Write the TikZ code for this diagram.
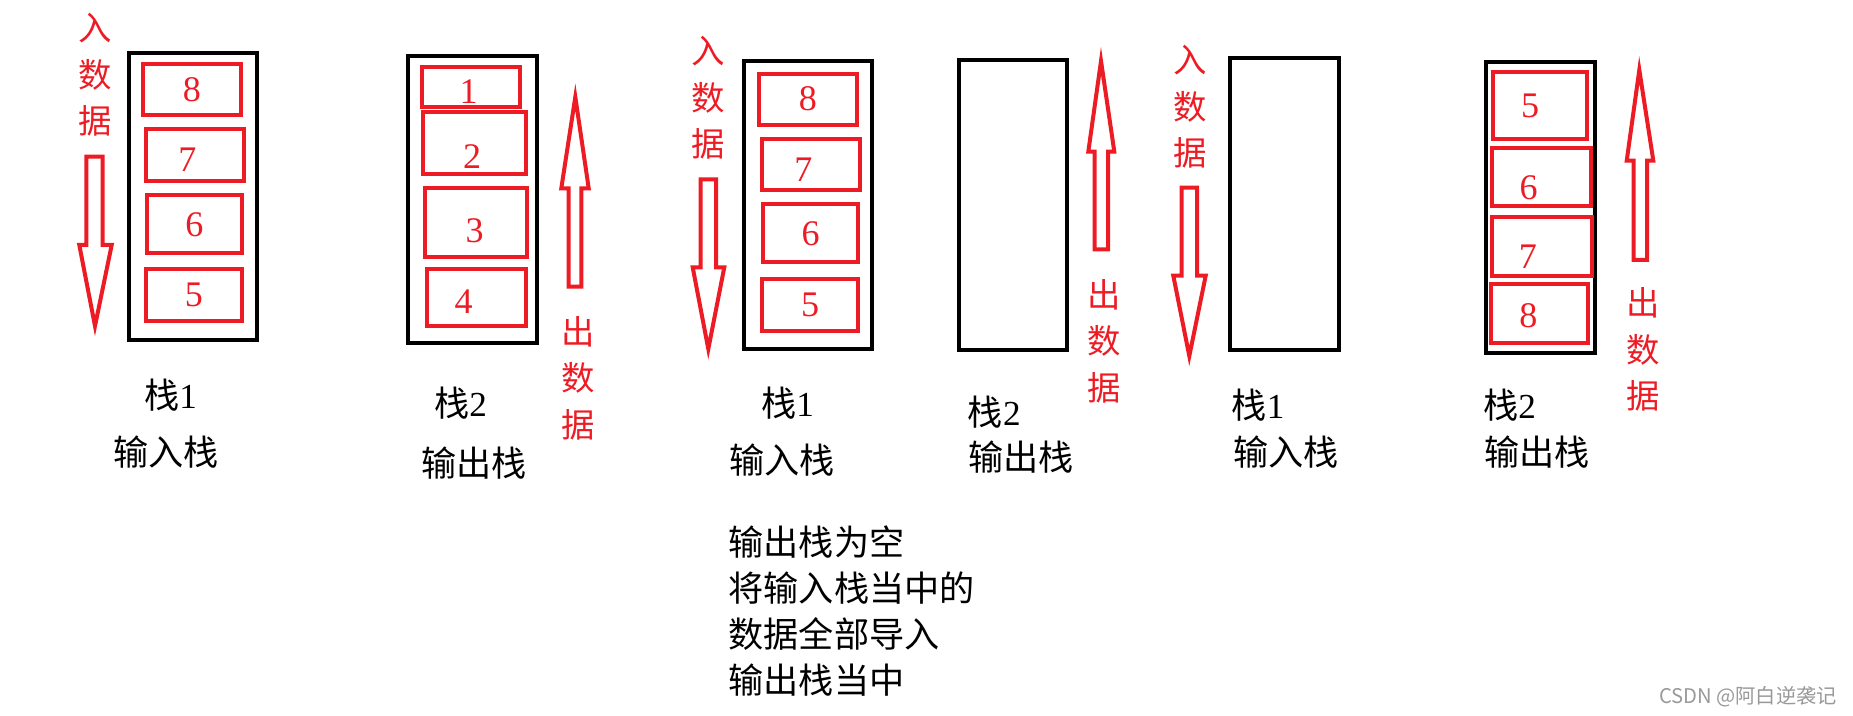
\documentclass[tikz,border=0pt]{standalone}
\usepackage{fontspec}
\newfontfamily\cjk{Noto Sans CJK SC}
\newfontfamily\dig{Liberation Serif}
\definecolor{pred}{HTML}{ED1C24}
\usetikzlibrary{positioning}
\newcommand{\nudge}[3]{\hspace*{#1}\raisebox{#2}[\height][\depth]{#3}}

\begin{document}
\begin{tikzpicture}[x=0.2mm,y=-0.2mm,
 stk/.style={draw=black,line width=0.8mm,inner sep=0pt},
 cell/.style={draw=pred,line width=0.8mm,text=pred,inner sep=0pt,font=\dig\fontsize{20.5pt}{24pt}\selectfont},
 sz/.style 2 args={minimum width=#1*0.2mm,minimum height=#2*0.2mm},
 lab/.style={font=\cjk\fontsize{20pt}{26.2pt}\selectfont,inner sep=0pt,align=left},
 vlab/.style={font=\cjk\fontsize{19pt}{26.5pt}\selectfont,text=pred,align=center,inner sep=0pt},
 blk/.style={draw=pred,line width=0.8mm,line join=miter}]
\useasboundingbox (0,0) rectangle (1853,716);

\node[stk,sz={128.3}{287}] (in1) at (192.9,196.2) {};
\node[cell,sz={97.4}{51}] (in1c8) at (192,89.8) {8};
\node[cell,sz={98}{51.7}] (in1c7) at (195.3,155.2) {\nudge{-9pt}{-2.8pt}{7}};
\node[cell,sz={94.4}{58}] (in1c6) at (194.5,224.3) {6};
\node[cell,sz={95.4}{52}] (in1c5) at (194,295.3) {5};
\node[stk,sz={128.4}{286.7}] (out1) at (472.5,199.7) {};
\node[cell,sz={98}{39.7}] (out1c1) at (471.3,86.9) {\nudge{-3pt}{-2.8pt}{1}};
\node[cell,sz={103}{62}] (out1c2) at (474.8,143.3) {\nudge{-3pt}{-7.4pt}{2}};
\node[cell,sz={102}{68.7}] (out1c3) at (476.3,222.7) {\nudge{-2pt}{-4.6pt}{3}};
\node[cell,sz={99.3}{57}] (out1c4) at (476.7,297.8) {\nudge{-14.8pt}{-2.2pt}{4}};

\node[stk,sz={128}{287.4}] (in2) at (808.3,205) {};
\node[cell,sz={97.7}{51}] (in2c8) at (807.9,99.2) {8};
\node[cell,sz={98}{51.6}] (in2c7) at (811.3,164.5) {\nudge{-9pt}{-2.8pt}{7}};
\node[cell,sz={94.4}{58}] (in2c6) at (810.5,233.3) {6};
\node[cell,sz={95.4}{52}] (in2c5) at (810,304.7) {5};
\node[stk,sz={108}{290.6}] (out2) at (1013.3,205) {};

\node[stk,sz={108.4}{291.7}] (in3) at (1284.5,203.9) {};
\node[stk,sz={108.4}{291}] (out3) at (1540.5,207.5) {};
\node[cell,sz={93.4}{66.7}] (out3c5) at (1540,105.7) {\nudge{-11.4pt}{0pt}{5}};
\node[cell,sz={98.4}{57.4}] (out3c6) at (1541.5,177) {\nudge{-14.8pt}{-6.3pt}{6}};
\node[cell,sz={99.4}{59}] (out3c7) at (1542,246.2) {\nudge{-16pt}{-5.7pt}{7}};
\node[cell,sz={97}{59}] (out3c8) at (1539.8,313.8) {\nudge{-13pt}{-1.1pt}{8}};

\draw[blk] (86.3,156.7) -- (102.7,156.7) -- (102.7,245) -- (111.7,245) -- (95,326) -- (79.3,245) -- (86.3,245) -- cycle;
\draw[blk] (700.7,179.3) -- (716,179.3) -- (716,267.3) -- (724.3,267.3) -- (708.3,349) -- (692.7,267.3) -- (700.7,267.3) -- cycle;
\draw[blk] (1181.7,187.7) -- (1197,187.7) -- (1197,275.7) -- (1205.7,275.7) -- (1189.3,356) -- (1173.3,275.7) -- (1181.7,275.7) -- cycle;
\draw[blk] (568.7,286.7) -- (581.3,286.7) -- (581.3,188.3) -- (588.7,188.3) -- (575.3,97) -- (561.3,188.3) -- (568.7,188.3) -- cycle;
\draw[blk] (1094.7,249.3) -- (1108,249.3) -- (1108,151.7) -- (1114.3,151.7) -- (1101,61) -- (1088.3,151.7) -- (1094.7,151.7) -- cycle;
\draw[blk] (1633.7,260) -- (1647,260) -- (1647,160.7) -- (1653.3,160.7) -- (1639.3,70) -- (1626.7,160.7) -- (1633.7,160.7) -- cycle;

\node[vlab] (push1) at (95,75) {入\\数\\据};
\node[vlab] (pop1) at (577.7,378) {出\\数\\据};
\node[vlab] (push2) at (708,97.7) {入\\数\\据};
\node[vlab] (pop2) at (1104,341) {出\\数\\据};
\node[vlab] (push3) at (1190,106.7) {入\\数\\据};
\node[vlab] (pop3) at (1643,349.5) {出\\数\\据};

\node[lab] (t1) at (170.7,395) {栈{\dig 1}};
\node[lab] (n1) at (166.3,451.7) {输入栈};
\node[lab] (t2) at (460.5,403.3) {栈{\dig 2}};
\node[lab] (n2) at (474.3,463.3) {输出栈};
\node[lab] (t3) at (787.5,403.3) {栈{\dig 1}};
\node[lab] (n3) at (782.2,460) {输入栈};
\node[lab] (t4) at (994.2,411.7) {栈{\dig 2}};
\node[lab] (n4) at (1021.3,456.7) {输出栈};
\node[lab] (t5) at (1258,405) {栈{\dig 1}};
\node[lab] (n5) at (1286,451.7) {输入栈};
\node[lab] (t6) at (1509.5,405) {栈{\dig 2}};
\node[lab] (n6) at (1537,451.7) {输出栈};
\node[lab,anchor=west] (note) at (728.3,610.8) {输出栈为空\\将输入栈当中的\\数据全部导入\\输出栈当中};
\node[font=\cjk\fontsize{11.5pt}{14pt}\selectfont,text=black!40,inner sep=0pt,anchor=east] (wm) at (1837,697) {CSDN @阿白逆袭记};
\end{tikzpicture}
\end{document}
